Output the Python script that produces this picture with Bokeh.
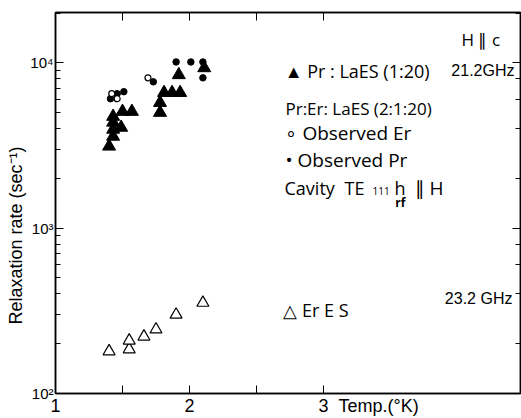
from math import pi

from bokeh.plotting import figure
from bokeh.models import Range1d, LogAxis, LinearAxis, FixedTicker, Label, AllLabels
from bokeh.embed import file_html
from bokeh.resources import INLINE

# Pr:LaES (1:20), 21.2 GHz -- filled triangles
pr_temp = [1.40, 1.43, 1.43, 1.43, 1.43, 1.49, 1.50, 1.57, 1.78, 1.78, 1.81, 1.87, 1.93, 1.92, 2.11]
pr_rate = [3130, 3590, 3960, 4370, 4740, 4070, 5080, 5080, 5010, 5750, 6610, 6610, 6610, 8470, 9330]

# Pr:Er:LaES (2:1:20) -- observed Er (open) and observed Pr (filled) circles
obs_er_temp = [1.42, 1.46, 1.69]
obs_er_rate = [6520, 6080, 8130]
obs_pr_temp = [1.41, 1.46, 1.51, 1.73, 1.90, 2.01, 2.10, 2.10]
obs_pr_rate = [6080, 6520, 6700, 7690, 10140, 10140, 10140, 8130]

# Er ES, 23.2 GHz -- open triangles
eres_temp = [1.40, 1.55, 1.55, 1.66, 1.75, 1.90, 2.10]
eres_rate = [180, 185, 209, 221, 244, 300, 354]

NB = "\u00a0"
x_ticks = [1, 1.5, 2, 2.5, 3]
# the temperature caption shares the "3" label line; leading blanks keep the digit on its tick
x_tick_labels = {1: "1", 1.5: "", 2: "2", 2.5: "",
                 3: NB * 18 + "3" + NB * 2 + "Temp.(\u00b0K)"}
y_tick_labels = {100: "10\u00b2", 1000: "10\u00b3", 10000: "10\u2074"}
y_title = "Relaxation rate (sec\u207b\u00b9)" + NB * 13

FONT = "Liberation Sans"
TXT = "Open Sans"

p = figure(width=521, height=418, output_backend="svg", toolbar_location=None,
           y_axis_type="log",
           x_range=Range1d(1, 4.47), y_range=Range1d(100, 20200),
           min_border_left=55, min_border_right=1, min_border_top=12, min_border_bottom=22,
           background_fill_color="white", border_fill_color="white")
p.grid.visible = False
p.outline_line_color = "black"
p.outline_line_width = 1.5

# bottom axis
xa = p.xaxis[0]
xa.ticker = FixedTicker(ticks=x_ticks)
xa.major_label_overrides = x_tick_labels
xa.major_label_policy = AllLabels()
xa.major_tick_in = 8
xa.major_tick_out = 0
xa.minor_tick_line_color = None
xa.major_label_standoff = 2
xa.major_label_text_font = FONT
xa.major_label_text_font_size = "18px"
xa.major_label_text_color = "black"
xa.axis_line_width = 1.5

# left axis
ya = p.yaxis[0]
ya.major_label_overrides = y_tick_labels
ya.major_tick_in = 8
ya.major_tick_out = 0
ya.minor_tick_in = 5
ya.minor_tick_out = 0
ya.major_label_standoff = 2
ya.major_label_text_font = FONT
ya.major_label_text_font_size = "15px"
ya.major_label_text_color = "black"
ya.axis_line_width = 1.5
ya.axis_label = y_title
ya.axis_label_text_font = FONT
ya.axis_label_text_font_size = "18px"
ya.axis_label_text_font_style = "normal"
ya.axis_label_text_color = "black"
ya.axis_label_standoff = 1

# top and right axes carry ticks only
top = LinearAxis(ticker=FixedTicker(ticks=x_ticks), major_tick_in=8, major_tick_out=0,
                 minor_tick_line_color=None,
                 major_label_overrides={t: "" for t in x_ticks},
                 major_label_standoff=0, axis_line_width=1.5)
p.add_layout(top, "above")
right = LogAxis(major_tick_in=8, major_tick_out=0, minor_tick_in=5, minor_tick_out=0,
                major_label_overrides={100: "", 1000: "", 10000: ""},
                major_label_standoff=0, axis_line_width=1.5)
p.add_layout(right, "right")

# data
p.scatter(pr_temp, pr_rate, marker="triangle", size=13, fill_color="black", line_color="black")
p.scatter(eres_temp, eres_rate, marker="triangle", size=12, fill_color="white",
          line_color="black", line_width=1.2)
p.scatter(obs_pr_temp, obs_pr_rate, marker="circle", size=6.5, fill_color="black", line_color="black")
p.scatter(obs_er_temp, obs_er_rate, marker="circle", size=6, fill_color="white",
          line_color="black", line_width=1.2)


def label(x, y, text, size="17px", font=TXT, align="left", style="normal"):
    p.add_layout(Label(x=x, y=y, text=text, text_font=font, text_font_size=size,
                       text_align=align, text_baseline="middle", text_font_style=style,
                       text_color="black"))


label(4.03, 13900, "H \u2225 c", size="17px")
label(2.71, 8960, "\u25b2 Pr : LaES (1:20)", size="18px")
label(4.425, 8960, "21.2GHz", size="16px", font=FONT, align="right")
label(2.716, 5290, "Pr:Er: LaES (2:1:20)", size="17px")
label(2.716, 3750, "\u2218 Observed  Er", size="19px")
label(2.716, 2580, "\u2022 Observed  Pr", size="19px")
label(2.709, 1750, "Cavity", size="18px")
label(3.157, 1750, "TE", size="18px")
label(3.366, 1680, "111", size="10px")
label(3.53, 1750, "h", size="18px")
label(3.535, 1440, "rf", size="12px", style="bold")
label(3.68, 1750, "\u2225  H", size="19px")
label(2.70, 322, "\u25b3 Er  E S", size="18px")
label(4.41, 375, "23.2 GHz", size="16px", font=FONT, align="right")

open("out.html", "w").write(file_html(p, INLINE))
